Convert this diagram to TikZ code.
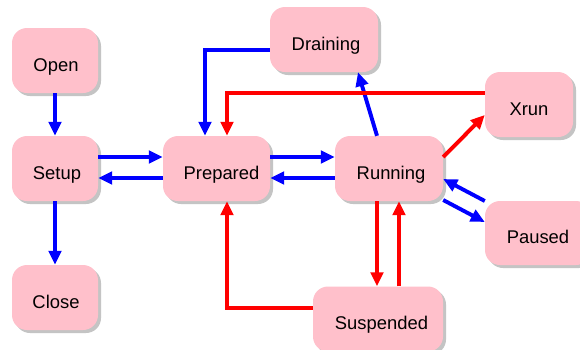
\documentclass[tikz,border=0pt]{standalone}
\usepackage{fontspec}
\setmainfont{Liberation Sans}
\usetikzlibrary{arrows.meta,shadows}
\definecolor{statefill}{RGB}{255,192,203}
\definecolor{shadowgray}{RGB}{196,196,196}
\definecolor{edgeblue}{RGB}{0,0,255}
\definecolor{edgered}{RGB}{255,0,0}
\begin{document}
\begin{tikzpicture}[x=1pt,y=-1pt,
  state/.style={rectangle, rounded corners=15pt, fill=statefill,
    minimum width=86pt, minimum height=65pt, inner sep=0pt,
    font=\fontsize{18.4}{22}\selectfont, text height=21.6pt, text depth=0pt,
    general shadow={fill=shadowgray, shadow xshift=3pt, shadow yshift=-3pt}},
  edge/.style={line width=3.9pt, -{Triangle[length=14pt,width=12.5pt]}},
  blueedge/.style={edge, draw=edgeblue},
  rededge/.style={edge, draw=edgered}]
\clip (0,0) rectangle (580,349);
\fill[white] (0,0) rectangle (580,349);

% states (a leading \hspace nudges each label slightly to the right)
\node[state] (open) at (55,60.5) {\hspace{2pt}Open};
\node[state] (setup) at (55,168.5) {\hspace{4pt}Setup};
\node[state] (close) at (55,297.5) {\hspace{2pt}Close};
\node[state, minimum width=107pt] (prepared) at (216.5,168.5) {\hspace{10pt}Prepared};
\node[state, minimum width=108pt] (running) at (389,168.5) {\hspace{4pt}Running};
\node[state, minimum width=108pt] (draining) at (324,39.5) {\hspace{4pt}Draining};
\node[state, minimum width=88pt] (xrun) at (529,104.5) {Xrun\hspace{3pt}};
\node[state, minimum width=106pt, minimum height=64pt] (paused) at (538,233) {Paused};
\node[state, minimum width=130pt] (suspended) at (378,319) {\hspace{7pt}Suspended};

% blue transitions
\draw[blueedge] (open.south) -- (setup.north);
\draw[blueedge] (setup.south) -- (close.north);
\draw[blueedge] ([yshift=11.5pt]setup.east) -- ([yshift=11.5pt]prepared.west);
\draw[blueedge] ([yshift=-9.5pt]prepared.west) -- ([yshift=-9.5pt]setup.east);
\draw[blueedge] ([yshift=11.5pt]prepared.east) -- ([yshift=11.5pt]running.west);
\draw[blueedge] ([yshift=-9.5pt]running.west) -- ([yshift=-9.5pt]prepared.east);
\draw[blueedge] ([yshift=-10.5pt]draining.west) -| ([xshift=-11.5pt]prepared.north);
\draw[blueedge] ([xshift=-12pt]running.north) -- ([xshift=34pt]draining.south);
\draw[blueedge] ([yshift=-31.5pt]running.east) -- ([yshift=11pt]paused.west);
\draw[blueedge] ([yshift=32pt]paused.west) -- ([yshift=-10.5pt]running.east);

% red transitions
\draw[rededge] ([yshift=11.5pt]xrun.west) -| ([xshift=10.5pt]prepared.north);
\draw[rededge] ([yshift=11.5pt]running.east) -- ([yshift=-10.5pt]xrun.west);
\draw[rededge] ([xshift=-12pt]running.south) -- ([xshift=-1pt]suspended.north);
\draw[rededge] ([xshift=21pt]suspended.north) -- ([xshift=10pt]running.south);
\draw[rededge] ([yshift=11pt]suspended.west) -| ([xshift=10.5pt]prepared.south);
\end{tikzpicture}
\end{document}
